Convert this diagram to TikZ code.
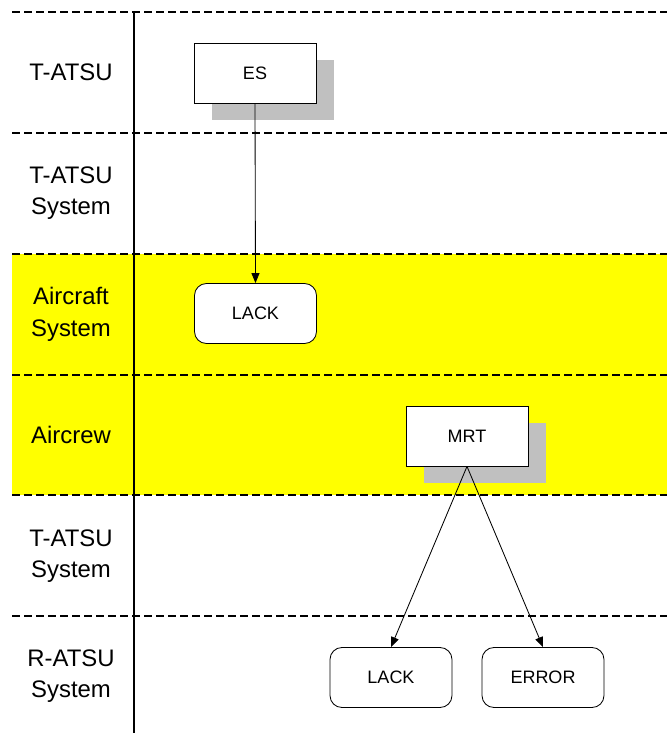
\documentclass[tikz,border=0pt]{standalone}
\usepackage{fontspec}
\setmainfont{Liberation Sans}
\usetikzlibrary{arrows.meta, shadows}
\definecolor{laneYellow}{HTML}{FFFF00}
\definecolor{shadowGray}{HTML}{C0C0C0}

\begin{document}
\begin{tikzpicture}[x=0.025cm, y=-0.025cm,
      lane/.style={line width=1.4pt, dash pattern=on 0.19cm off 0.11cm},
      lanelabel/.style={align=center, font=\fontsize{17}{22.5}\selectfont},
      msg/.style={draw, line width=0.6pt, fill=white, minimum width=3.05cm, minimum height=1.5cm,
        font=\fontsize{12.8}{15}\selectfont},
      shadowed/.style={drop shadow={shadow xshift=0.45cm, shadow yshift=-0.43cm, fill=shadowGray, opacity=1}},
      ack/.style={msg, rounded corners=0.3cm},
      link/.style={line width=0.6pt, -{Triangle[length=0.25cm, width=0.2cm]}}]
    \useasboundingbox (0,0) rectangle (667,733);
    % yellow aircraft lanes
    \fill[laneYellow] (12,254) rectangle (667,495);
    \foreach \y in {12,133,254,375,495,616} {
      \draw[lane] (12,\y) -- (667,\y);
    }
    \draw[line width=1.4pt] (134,12) -- (134,733);
    % lane names
    \node[lanelabel] (t1) at (71,72) {T-ATSU};
    \node[lanelabel] (t2) at (71,193) {T-ATSU\\System};
    \node[lanelabel] (ac) at (71,314) {Aircraft\\System};
    \node[lanelabel] (crew) at (71,435) {Aircrew};
    \node[lanelabel] (t3) at (71,556) {T-ATSU\\System};
    \node[lanelabel] (r1) at (71,676) {R-ATSU\\System};
    % messages
    \node[msg, shadowed] (es) at (255,73) {ES};
    \node[ack] (lack1) at (255.5,313.5) {LACK};
    \node[msg, shadowed] (mrt) at (467,436) {MRT};
    \node[ack] (lack2) at (391,677.5) {LACK};
    \node[ack] (error) at (543,677.5) {ERROR};
    \draw[link] (es.south) -- (lack1.north);
    \draw[link] (mrt.south) -- (lack2.north);
    \draw[link] (mrt.south) -- (error.north);
  \end{tikzpicture}
\end{document}
